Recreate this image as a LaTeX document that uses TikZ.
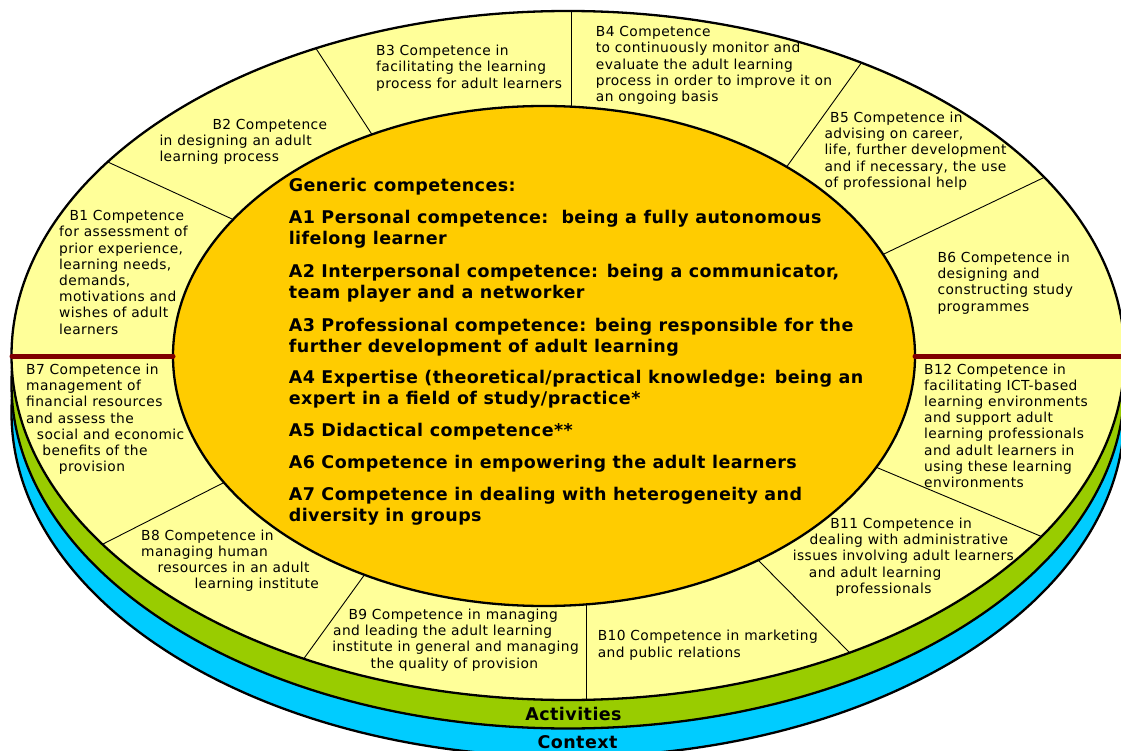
\documentclass[tikz,border=0pt]{standalone}
\usepackage{fontspec}
\setmainfont{DejaVu Sans}
\newfontfamily\bfnt{DejaVu Sans}[LetterSpace=3.0]
\newfontfamily\cfnt{DejaVu Sans}[LetterSpace=2.5]
\definecolor{ylw}{HTML}{FFFF99}
\definecolor{org}{HTML}{FFCC00}
\definecolor{grn}{HTML}{99CC00}
\definecolor{blu}{HTML}{00CCFF}
\definecolor{mar}{HTML}{800000}
\begin{document}
\begin{tikzpicture}[x=1pt,y=-1pt,
  ring/.style={draw=black,line width=2.3pt},
  divider/.style={draw=black,line width=0.9pt,shorten <=-4pt,shorten >=-8pt},
  redbar/.style={draw=mar,line width=5pt,line cap=round},
  bt/.style={font=\bfnt\fontsize{13.8}{16.2}\selectfont,anchor=base west,align=left,inner sep=0pt},
  atext/.style={font=\cfnt\bfseries\fontsize{17.5}{21}\selectfont,anchor=base west,align=left,inner sep=0pt},
  lbl/.style={font=\cfnt\bfseries\fontsize{17.5}{21}\selectfont,anchor=base,inner sep=0pt}]
\useasboundingbox (0,0) rectangle (1121,751);
\clip (0,0) rectangle (1121,751);
% stacked discs
\draw[ring,fill=blu] (568,412.5) ellipse [x radius=556.5pt, y radius=344.5pt];
\draw[ring,fill=grn] (568,384) ellipse [x radius=556.5pt, y radius=344.5pt];
\fill[ylw] (568,355.5) ellipse [x radius=556.5pt, y radius=344.5pt];
% divider end points
\coordinate (d1i) at (232,219);   \coordinate (d1o) at (110,163);
\coordinate (d2i) at (371,133);   \coordinate (d2o) at (317,50);
\coordinate (d3i) at (571,106);   \coordinate (d3o) at (571,11);
\coordinate (d4i) at (788,165);   \coordinate (d4o) at (862,62);
\coordinate (d5i) at (886,253);   \coordinate (d5o) at (1045,177);
\coordinate (d6i) at (878,468);   \coordinate (d6o) at (1045,538);
\coordinate (d7i) at (760,562);   \coordinate (d7o) at (850,653);
\coordinate (d8i) at (586,606);   \coordinate (d8o) at (586,700);
\coordinate (d9i) at (363.6,576); \coordinate (d9o) at (305,657);
\coordinate (d10i) at (223,483);  \coordinate (d10o) at (105,543);
\begin{scope}
  \clip (568,355.5) ellipse [x radius=556.5pt, y radius=344.5pt];
  \foreach \k in {1,...,10} \draw[divider] (d\k i) -- (d\k o);
\end{scope}
\draw[ring] (568,355.5) ellipse [x radius=556.5pt, y radius=344.5pt];
\draw[ring,fill=org] (544,356) ellipse [x radius=371pt, y radius=250pt];
% red bars
\coordinate (rl1) at (12,356);  \coordinate (rl2) at (173,356);
\coordinate (rr1) at (915,356); \coordinate (rr2) at (1128,356);
\draw[redbar] (rl1) -- (rl2);
\draw[redbar] (rr1) -- (rr2);
% outer ring texts (anchor at baseline of last line)
\node[bt] (b1) at (59,334.1) {\hspace*{10.3pt}B1 Competence\\for assessment of\\prior experience,\\learning needs,\\demands,\\motivations and\\wishes of adult\\learners};
\node[bt] (b2) at (159.3,161.9) {\hspace*{53pt}B2 Competence\\in designing an adult\\learning process};
\node[bt] (b3) at (376,88.2) {B3 Competence in\\facilitating the learning\\process for adult learners};
\node[bt] (b4) at (595.7,101.6) {B4 Competence\\to continuously monitor and\\evaluate the adult learning\\process in order to improve it on\\an ongoing basis};
\node[bt] (b5) at (824.3,187.3) {\hspace*{5.7pt}B5 Competence in\\advising on career,\\life, further development\\and if necessary, the use\\of professional help};
\node[bt] (b6) at (937.3,311) {B6 Competence in\\designing and\\constructing study\\programmes};
\node[bt] (b12) at (924,487.4) {B12 Competence in\\facilitating ICT-based\\learning environments\\and support adult\\learning professionals\\and adult learners in\\using these learning\\environments};
\node[bt] (b11) at (792.6,593.2) {\hspace*{37.5pt}B11 Competence in\\\hspace*{16.8pt}dealing with administrative\\issues involving adult learners\\\hspace*{16.1pt}and adult learning\\\hspace*{42.9pt}professionals};
\node[bt] (b10) at (597.6,657) {B10 Competence in marketing\\and public relations};
\node[bt] (b9) at (332.2,668.1) {\hspace*{16.1pt}B9 Competence in managing\\\hspace*{0.8pt}and leading the adult learning\\institute in general and managing\\\hspace*{38.3pt}the quality of provision};
\node[bt] (b8) at (141,588.6) {B8 Competence in\\managing human\\\hspace*{16.3pt}resources in an adult\\\hspace*{53.3pt}learning institute};
\node[bt] (b7) at (26,471.7) {B7 Competence in\\management of\\financial resources\\and assess the\\\hspace*{10.7pt}social and economic\\\hspace*{16.3pt}benefits of the\\\hspace*{32.7pt}provision};
% generic competences
\node[atext] (a0) at (288.6,191.7) {Generic competences:};
\node[atext] (a1) at (288.6,245) {A1 Personal competence:\ \ being a fully autonomous\\lifelong learner};
\node[atext] (a2) at (288.6,298.7) {A2 Interpersonal competence: being a communicator,\\team player and a networker};
\node[atext] (a3) at (288.6,352) {A3 Professional competence: being responsible for the\\further development of adult learning};
\node[atext] (a4) at (288.6,404.3) {A4 Expertise (theoretical/practical knowledge: being an\\expert in a field of study/practice*};
\node[atext] (a5) at (288.6,436) {A5 Didactical competence**};
\node[atext] (a6) at (288.6,468.3) {A6 Competence in empowering the adult learners};
\node[atext] (a7) at (288.6,521) {A7 Competence in dealing with heterogeneity and\\diversity in groups};
% band labels
\node[lbl] (act) at (573.5,720) {Activities};
\node[lbl] (ctx) at (577.5,748.3) {Context};
\end{tikzpicture}
\end{document}
